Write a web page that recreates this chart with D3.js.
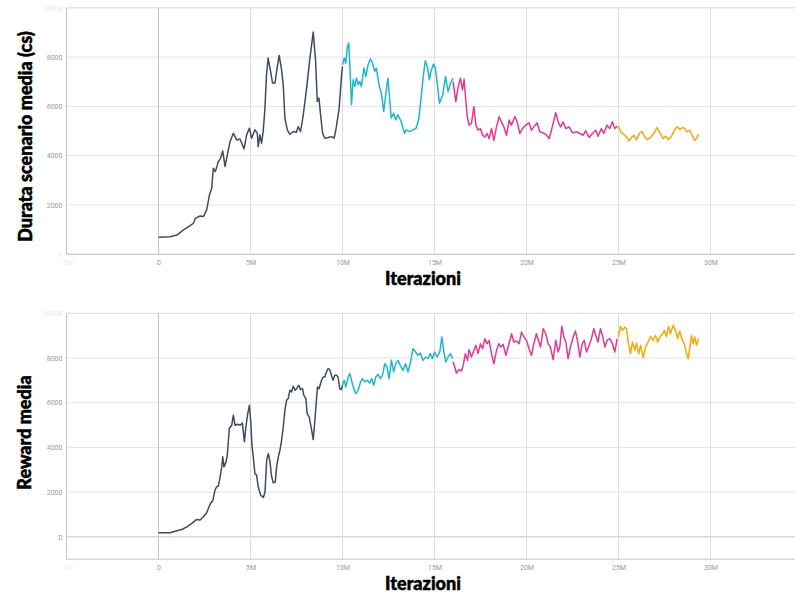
<!DOCTYPE html>
<html><head><meta charset="utf-8">
<script src="https://cdn.jsdelivr.net/npm/d3@7"></script>
<style>
html,body{margin:0;padding:0;background:#fff;}
svg{display:block;}
.tick text{font-family:Roboto,"Noto Sans",sans-serif;font-size:7px;fill:#9a9a9a;}
.title{font-family:Lato,"Liberation Sans",sans-serif;font-weight:900;font-size:18px;fill:#000;stroke:#000;stroke-width:0.5px;}
</style></head>
<body>
<script>
// ---------- DATA (x in millions of iterations) ----------
const xTickValues = [-5, 0, 5, 10, 15, 20, 25, 30];
const yTicksTop = [0, 2000, 4000, 6000, 8000, 10000];
const yTicksBottom = [0, 2000, 4000, 6000, 8000, 10000];
const seriesColors = ["#3f4b63", "#1db8d0", "#e8378f", "#f8a805"];

// Top chart: "Durata scenario media (cs)"
const durataRun1 = [[0,688],[0.63,715],[1.0,780],[1.36,990],[1.72,1160],[1.9,1260],[2.0,1460],[2.26,1555],[2.44,1530],[2.62,1800],[2.77,2410],[2.89,2680],[2.98,3490],[3.09,3355],[3.25,3760],[3.38,3900],[3.49,4195],[3.62,3560],[3.74,4030],[3.89,4575],[4.07,4910],[4.25,4640],[4.43,4680],[4.65,4275],[4.79,4845],[4.94,5115],[5.06,4710],[5.24,5050],[5.37,4910],[5.42,4370],[5.51,4845],[5.6,4505],[5.69,4980],[5.78,5860],[5.87,7280],[5.96,7960],[6.09,7420],[6.2,6945],[6.33,6945],[6.42,7420],[6.56,8070],[6.69,7485],[6.78,6875],[6.87,5520],[7.0,5050],[7.14,4870],[7.32,4980],[7.5,4950],[7.59,5180],[7.72,4980],[7.87,5660],[8.05,6740],[8.23,7960],[8.41,9015],[8.54,7825],[8.63,6200],[8.72,6335],[8.81,5660],[8.92,4910],[9.04,4710],[9.22,4735],[9.4,4775],[9.55,4710],[9.67,5180],[9.82,5930],[9.95,7280],[10.0,7620]];
const durataRun2 = [[10.0,7690],[10.09,7960],[10.18,7755],[10.27,8430],[10.34,8570],[10.4,7690],[10.49,6065],[10.58,7080],[10.67,6810],[10.76,7150],[10.85,6875],[10.94,7010],[11.03,6810],[11.16,7555],[11.27,7215],[11.39,7690],[11.52,7930],[11.63,7755],[11.75,7420],[11.84,7555],[11.99,6875],[12.11,6540],[12.24,5795],[12.35,6470],[12.47,7150],[12.56,6335],[12.65,5520],[12.78,5725],[12.89,5455],[13.01,5660],[13.19,5385],[13.37,4910],[13.46,5050],[13.64,4980],[13.82,5050],[14.0,5115],[14.14,5455],[14.27,6335],[14.39,7215],[14.5,7850],[14.63,7555],[14.72,7080],[14.81,7420],[14.94,7715],[15.05,7555],[15.18,6740],[15.27,6130],[15.45,6470],[15.6,7210],[15.74,6600],[15.87,6940],[16.01,7145]];
const durataRun3 = [[16.01,7010],[16.16,6190],[16.29,6800],[16.41,7145],[16.52,6670],[16.61,7100],[16.7,6260],[16.78,5580],[16.88,5240],[17.01,5310],[17.14,5990],[17.25,5240],[17.37,5035],[17.5,5100],[17.61,4830],[17.74,4760],[17.86,4900],[17.97,4695],[18.1,5100],[18.23,4625],[18.37,5170],[18.51,5580],[18.64,5375],[18.77,5170],[18.91,4830],[19.06,5445],[19.18,5240],[19.37,5580],[19.49,5375],[19.64,4900],[19.78,5100],[19.96,5240],[20.14,5335],[20.27,5035],[20.4,5170],[20.58,5335],[20.72,4970],[20.9,4925],[21.09,4830],[21.23,4695],[21.36,5035],[21.49,5445],[21.59,5740],[21.72,5375],[21.85,5170],[21.99,5375],[22.14,5100],[22.32,5170],[22.5,4925],[22.72,4970],[22.9,4900],[23.08,4830],[23.22,5010],[23.4,4740],[23.59,4900],[23.77,5035],[23.89,4790],[24.07,5100],[24.2,4900],[24.38,5240],[24.53,5100],[24.67,5375],[24.8,5100],[24.93,5200]];
const durataRun4 = [[25.0,5200],[25.11,4970],[25.25,4900],[25.43,4760],[25.58,4600],[25.71,4740],[25.83,4830],[25.98,4655],[26.16,4925],[26.3,4970],[26.43,4760],[26.56,4655],[26.74,4740],[26.92,4900],[27.1,5145],[27.25,4925],[27.43,4695],[27.57,4790],[27.72,4655],[27.88,4790],[28.06,5060],[28.19,5170],[28.33,5060],[28.48,5145],[28.61,5100],[28.73,4970],[28.88,5035],[29.02,4790],[29.15,4625],[29.28,4740],[29.35,4875]];

// Bottom chart: "Reward media"
const rewardRun1 = [[0,183],[0.63,180],[1.0,270],[1.27,330],[1.54,450],[1.81,600],[2.08,780],[2.26,750],[2.44,900],[2.62,1080],[2.71,1270],[2.84,1520],[2.95,1610],[3.07,2090],[3.16,2240],[3.25,2270],[3.35,2685],[3.44,3130],[3.49,3580],[3.56,3130],[3.67,3355],[3.74,3650],[3.85,4845],[3.98,4990],[4.07,5440],[4.16,4990],[4.29,5035],[4.43,4990],[4.56,5095],[4.67,4250],[4.76,4990],[4.85,5515],[4.94,5885],[5.01,5215],[5.08,4100],[5.15,3580],[5.24,2835],[5.33,2760],[5.42,2240],[5.55,1865],[5.7,1760],[5.79,2015],[5.88,3430],[5.97,3725],[6.06,3355],[6.15,2685],[6.24,2420],[6.35,2460],[6.42,3130],[6.51,3580],[6.6,3875],[6.69,4320],[6.78,4920],[6.87,5660],[6.96,6110],[7.05,6185],[7.14,6555],[7.23,6480],[7.32,6735],[7.43,6555],[7.5,6630],[7.63,6780],[7.72,6585],[7.83,6630],[7.9,6330],[8.01,6185],[8.08,5515],[8.19,5365],[8.31,4845],[8.41,4350],[8.5,5215],[8.59,6185],[8.64,6705],[8.73,6630],[8.86,7005],[8.95,7150],[9.04,7150],[9.13,7375],[9.22,7525],[9.31,7480],[9.4,7225],[9.49,7005],[9.58,7225],[9.67,7225],[9.76,7150],[9.85,6630],[9.94,6585],[10.0,6780]];
const rewardRun2 = [[10.0,6780],[10.09,7005],[10.18,6705],[10.31,7150],[10.4,7300],[10.49,7005],[10.61,6630],[10.72,6405],[10.85,6555],[10.98,6930],[11.08,7075],[11.21,6930],[11.34,7005],[11.48,6885],[11.59,7075],[11.7,6780],[11.81,7150],[11.93,7270],[12.06,7075],[12.17,7225],[12.3,7745],[12.42,7600],[12.53,7075],[12.66,7895],[12.78,7375],[12.89,7745],[13.02,7895],[13.14,7670],[13.29,7450],[13.43,7745],[13.56,7375],[13.69,7775],[13.83,8415],[13.98,8270],[14.1,8120],[14.23,8225],[14.37,7895],[14.52,8045],[14.65,7970],[14.77,8195],[14.89,7970],[15.0,8270],[15.14,8045],[15.29,8270],[15.4,8940],[15.51,8270],[15.62,7820],[15.74,8045],[15.87,8195],[15.98,7970]];
const rewardRun3 = [[16.01,7820],[16.1,7600],[16.19,7330],[16.32,7480],[16.47,7420],[16.56,7670],[16.68,8195],[16.79,7895],[16.88,8370],[17.01,8045],[17.14,8340],[17.25,8565],[17.37,8195],[17.5,8640],[17.61,8415],[17.74,8865],[17.86,8640],[17.97,8790],[18.1,8195],[18.23,7745],[18.37,8340],[18.5,8640],[18.61,8490],[18.73,8610],[18.88,8120],[19.0,8490],[19.19,9085],[19.31,8715],[19.46,8760],[19.6,8640],[19.73,9160],[19.86,8940],[20.0,8790],[20.14,8415],[20.27,8120],[20.4,8640],[20.54,9085],[20.65,8790],[20.76,8490],[20.91,9310],[21.05,9085],[21.18,8640],[21.3,8490],[21.45,7925],[21.59,8790],[21.72,8270],[21.81,8490],[21.92,9415],[22.03,8940],[22.14,8715],[22.26,7970],[22.39,8490],[22.54,8940],[22.66,9205],[22.77,8790],[22.9,8045],[23.03,8640],[23.14,8790],[23.26,8270],[23.41,8565],[23.53,8865],[23.66,9310],[23.77,9010],[23.89,8715],[24.02,9310],[24.13,9010],[24.26,8490],[24.38,8790],[24.53,8865],[24.67,8640],[24.8,8270],[24.93,8865]];
const rewardRun4 = [[25.0,8940],[25.11,9415],[25.22,9235],[25.34,9385],[25.43,9310],[25.54,8640],[25.65,8195],[25.76,8715],[25.89,8340],[25.98,8670],[26.1,8195],[26.21,8565],[26.34,8015],[26.47,8490],[26.61,8715],[26.74,8965],[26.88,8790],[27.01,9010],[27.14,8715],[27.25,8940],[27.37,9055],[27.5,9235],[27.61,8965],[27.72,9415],[27.83,9085],[27.97,9460],[28.1,9235],[28.21,8865],[28.33,9205],[28.46,8820],[28.57,8640],[28.7,8195],[28.79,7970],[28.88,8490],[28.97,9010],[29.06,8640],[29.15,8940],[29.24,8565],[29.35,8865]];

// ---------- DRAWING ----------
const W = 795, H = 597;
const svg = d3.select("body").append("svg").attr("width", W).attr("height", H);

function drawPanel(cfg) {
  const x = d3.scaleLinear().domain([-5, 34.6]).range([66.5, 795.1]);
  const y = d3.scaleLinear().domain(cfg.yDomain).range(cfg.yRange);
  const g = svg.append("g");
  const x0 = x.range()[0], x1 = x.range()[1];
  const yb = y.range()[0], yt = y.range()[1];

  // horizontal grid
  g.selectAll("line.hg").data(cfg.yTicks).enter().append("line")
    .attr("x1", x0).attr("x2", x1)
    .attr("y1", d => y(d)).attr("y2", d => y(d))
    .attr("stroke", d => (d === 0 && cfg.yDomain[0] < 0) ? "#c4c4c4" : "#e3e3e3")
    .attr("stroke-width", 1);
  g.append("line").attr("x1", x0).attr("x2", x1).attr("y1", yt).attr("y2", yt)
    .attr("stroke", "#e3e3e3");

  // vertical grid
  g.selectAll("line.vg").data(xTickValues.filter(d => d > -5)).enter().append("line")
    .attr("x1", d => x(d)).attr("x2", d => x(d))
    .attr("y1", yt).attr("y2", yb)
    .attr("stroke", d => d === 0 ? "#c4c4c4" : "#dedede")
    .attr("stroke-width", 1);

  // axis borders
  g.append("line").attr("x1", x0).attr("x2", x0).attr("y1", yt).attr("y2", yb)
    .attr("stroke", "#c4c4c4");
  g.append("line").attr("x1", x0).attr("x2", x1).attr("y1", yb).attr("y2", yb)
    .attr("stroke", "#c4c4c4");

  // axes labels
  const xa = g.append("g").attr("transform", `translate(0,${yb})`)
    .call(d3.axisBottom(x).tickValues(xTickValues).tickSize(0).tickPadding(6)
      .tickFormat(d => d === 0 ? "0" : d + "M"));
  xa.select(".domain").remove();
  xa.selectAll(".tick text").style("fill", d => d === -5 ? "#f0f0f0" : "#9a9a9a");

  const ya = g.append("g").attr("transform", `translate(${x0},0)`)
    .call(d3.axisLeft(y).tickValues(cfg.yTicks).tickSize(0).tickPadding(4)
      .tickFormat(d3.format("d")));
  ya.select(".domain").remove();
  ya.selectAll(".tick text").style("fill", d => (cfg.faint.includes(d)) ? "#e8e8e8" : "#9a9a9a");

  // lines
  const clipId = "clip" + cfg.id;
  svg.append("clipPath").attr("id", clipId).append("rect")
    .attr("x", x0).attr("y", yt).attr("width", x1 - x0).attr("height", yb - yt);
  const line = d3.line().x(d => x(d[0])).y(d => y(d[1]));
  const lg = g.append("g").attr("clip-path", `url(#${clipId})`);
  cfg.runs.forEach((run, i) => {
    lg.append("path").datum(run).attr("d", line)
      .attr("fill", "none").attr("stroke", seriesColors[i])
      .attr("stroke-width", 1.5).attr("stroke-linejoin", "round");
  });

  // titles
  svg.append("text").attr("class", "title")
    .attr("x", 423).attr("y", cfg.xTitleY).attr("text-anchor", "middle")
    .text("Iterazioni");
  svg.append("text").attr("class", "title")
    .attr("transform", `translate(${cfg.yTitleX},${cfg.yTitleCY}) rotate(-90)`)
    .attr("text-anchor", "middle")
    .text(cfg.yTitle);
}

drawPanel({
  id: 1, yDomain: [0, 10000], yRange: [254.3, 7.8], yTicks: yTicksTop, faint: [0, 10000],
  runs: [durataRun1, durataRun2, durataRun3, durataRun4],
  xTitleY: 285, yTitleX: 31.5, yTitleCY: 136.5, yTitle: "Durata scenario media (cs)"
});
drawPanel({
  id: 2, yDomain: [-1000, 10000], yRange: [559.2, 313.3], yTicks: yTicksBottom, faint: [10000],
  runs: [rewardRun1, rewardRun2, rewardRun3, rewardRun4],
  xTitleY: 590, yTitleX: 30.5, yTitleCY: 432.5, yTitle: "Reward media"
});
</script>
</body></html>
